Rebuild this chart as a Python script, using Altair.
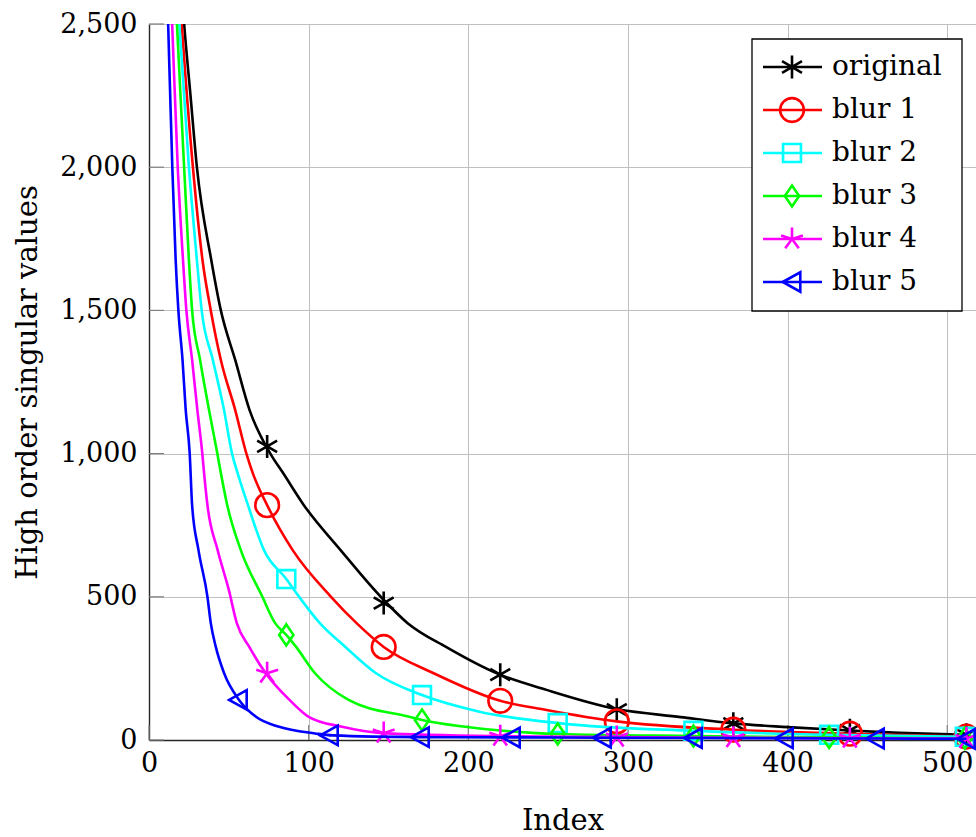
import altair as alt
import pandas as pd

# ---------------- data ----------------
NAMES = ["original", "blur 1", "blur 2", "blur 3", "blur 4", "blur 5"]
COLORS = ["#000000", "#ff0000", "#00ffff", "#00ff00", "#ff00ff", "#0000ff"]

ORIG_X = [15, 22, 26, 30, 39, 45, 54, 63, 76, 84, 97, 120, 146, 162, 186, 219, 249, 293, 333, 366, 400, 439, 470, 512]
ORIG_Y = [3100, 2500, 2250, 2000, 1676, 1500, 1327, 1152, 1000, 932, 820, 663, 495, 408, 325, 230, 175, 108, 80, 58, 45, 33, 25, 18]

BLUR1_X = [14, 20.5, 27.5, 33.5, 38.7, 45, 54, 61, 65, 74, 90, 114, 130, 147, 178, 220, 249, 293, 366, 437, 512]
BLUR1_Y = [3100, 2500, 2000, 1676, 1500, 1327, 1152, 1000, 932, 820, 663, 500, 408, 325, 234, 137, 105, 65, 36, 22, 12]

BLUR2_X = [13, 19, 25, 30, 33, 40, 47, 52, 55.5, 62, 72, 86, 94, 107, 123, 142, 171, 207, 258, 341, 426, 511]
BLUR2_Y = [3100, 2500, 2000, 1676, 1500, 1327, 1152, 1000, 932, 820, 663, 562, 500, 408, 325, 234, 157, 99, 58, 32, 18, 11]

BLUR3_X = [12, 17.5, 22, 25, 27, 32, 37.6, 42.8, 45, 49, 57.5, 71, 79, 86, 92, 104, 125, 163, 171, 198, 240, 256, 341, 426, 511]
BLUR3_Y = [3100, 2500, 2000, 1676, 1500, 1327, 1152, 1000, 932, 820, 663, 500, 408, 367, 326, 233, 140, 81, 70, 46, 25, 21, 14, 9, 6]

BLUR4_X = [10, 14.5, 18, 21.3, 23.4, 27, 30.3, 33.4, 34.5, 36.6, 43, 50, 55, 62.7, 73, 88, 100, 121, 146, 220, 293, 366, 439, 512]
BLUR4_Y = [3100, 2500, 2000, 1676, 1500, 1327, 1152, 1000, 932, 820, 663, 524, 408, 326, 234, 140, 81, 46, 24, 13, 10, 8, 6, 5]

BLUR5_X = [9, 12, 14.6, 16.7, 18.4, 21, 23, 25.5, 27, 31, 36.6, 38.7, 41.8, 47, 56.4, 67, 81.5, 104, 115, 170, 228, 285, 342, 400, 457, 512]
BLUR5_Y = [3100, 2500, 2000, 1676, 1500, 1327, 1152, 1000, 820, 663, 500, 408, 326, 234, 140, 81, 46, 23, 16, 10, 9, 8, 7, 6, 5, 4]

# marker positions (every n-th sample, as in the reference)
ORIG_MX = [74, 147, 220, 293, 366, 439, 512]
ORIG_MY = [1025, 478, 228, 106, 57, 34, 18]
BLUR1_MX = [74, 147, 220, 293, 366, 439, 512]
BLUR1_MY = [820, 325, 137, 65, 36, 22, 12]
BLUR2_MX = [86, 171, 256, 341, 426, 511]
BLUR2_MY = [562, 157, 59, 32, 18, 11]
BLUR3_MX = [86, 171, 256, 341, 426, 511]
BLUR3_MY = [367, 70, 21, 14, 9, 6]
BLUR4_MX = [74, 147, 220, 293, 366, 439, 512]
BLUR4_MY = [233, 24, 13, 10, 8, 6, 5]
BLUR5_MX = [56, 113, 170, 227, 284, 341, 398, 455, 512]
BLUR5_MY = [140, 16, 10, 9, 8, 7, 6, 5, 4]

XTICKS = [0, 100, 200, 300, 400, 500]
YTICKS = [0, 500, 1000, 1500, 2000, 2500]

# ---------------- styling ----------------
ASTERISK = "M0,-1L0,1M-0.866,-0.5L0.866,0.5M-0.866,0.5L0.866,-0.5"
STAR5 = "M0,0L0,-1M0,0L0.951,-0.309M0,0L0.588,0.809M0,0L-0.588,0.809M0,0L-0.951,-0.309"
DIAMOND = "M0,-1L0.68,0L0,1L-0.68,0Z"
TRILEFT = "M-0.95,0L0.85,-1L0.85,1Z"
SHAPES = [ASTERISK, "circle", "square", DIAMOND, STAR5, TRILEFT]
SIZES = [530, 560, 320, 440, 530, 380]

FONT = "DejaVu Serif"
W, H = 827, 716
LW = 2.6

line_data = [(ORIG_X, ORIG_Y), (BLUR1_X, BLUR1_Y), (BLUR2_X, BLUR2_Y),
             (BLUR3_X, BLUR3_Y), (BLUR4_X, BLUR4_Y), (BLUR5_X, BLUR5_Y)]
mark_data = [(ORIG_MX, ORIG_MY), (BLUR1_MX, BLUR1_MY), (BLUR2_MX, BLUR2_MY),
             (BLUR3_MX, BLUR3_MY), (BLUR4_MX, BLUR4_MY), (BLUR5_MX, BLUR5_MY)]

xscale = alt.Scale(domain=[0, 518], nice=False, zero=False)
yscale = alt.Scale(domain=[0, 2500], nice=False)
cscale = alt.Scale(domain=NAMES, range=COLORS)
sscale = alt.Scale(domain=NAMES, range=SHAPES)
zscale = alt.Scale(type="ordinal", domain=NAMES, range=SIZES)

x_axis = alt.Axis(values=XTICKS, title="Index", labelPadding=10, labelFlush=False,
                  titleY=89, titleBaseline="alphabetic")
y_axis = alt.Axis(values=YTICKS, format=",d", title="High order singular values",
                  labelPadding=12, labelFlush=False, titleX=-113, titleY=358, titleAngle=270,
                  titleAlign="center", titleBaseline="alphabetic")

X = lambda: alt.X("idx:Q", scale=xscale, axis=x_axis)
Y = lambda: alt.Y("value:Q", scale=yscale, axis=y_axis)
C = lambda: alt.Color("series:N", scale=cscale, legend=None)

# inward tick marks
ytick = alt.Chart(pd.DataFrame({"value": YTICKS})).mark_rule(
    color="#808080", strokeWidth=1.2).encode(
    y=Y(), x=alt.value(0), x2=alt.value(15))
xtick = alt.Chart(pd.DataFrame({"idx": XTICKS})).mark_rule(
    color="#808080", strokeWidth=1.2).encode(
    x=X(), y=alt.value(H), y2=alt.value(H - 15))

data_layers = [ytick, xtick]
for name, size, (lx, ly), (mx, my) in zip(NAMES, SIZES, line_data, mark_data):
    ldf = pd.DataFrame({"series": name, "idx": lx, "value": ly})
    mdf = pd.DataFrame({"series": name, "idx": mx, "value": my})
    line = alt.Chart(ldf).mark_line(strokeWidth=LW, interpolate="monotone", clip=True).encode(
        x=X(), y=Y(), color=C())
    pts = alt.Chart(mdf).mark_point(filled=False, strokeWidth=LW, opacity=1, size=size).encode(
        x=X(), y=Y(), color=C(),
        shape=alt.Shape("series:N", scale=sscale, legend=None))
    data_layers += [line, pts]

plot = alt.layer(*data_layers)

# ---------------- legend box ----------------
leg_df = pd.DataFrame({"series": NAMES})
LY = alt.Y("series:N", scale=alt.Scale(type="point", domain=NAMES, range=[43, 258], padding=0),
           axis=None)
box = alt.Chart(pd.DataFrame({"k": [0]})).mark_rect(
    fill="white", stroke="black", strokeWidth=1.3).encode(
    x=alt.value(603), x2=alt.value(813), y=alt.value(15), y2=alt.value(287))
leg_rule = alt.Chart(leg_df).mark_rule(strokeWidth=LW).encode(
    x=alt.value(614), x2=alt.value(673), y=LY, color=C())
leg_pts = alt.Chart(leg_df).mark_point(filled=False, strokeWidth=LW, opacity=1).encode(
    x=alt.value(643), y=LY, color=C(),
    shape=alt.Shape("series:N", scale=sscale, legend=None),
    size=alt.Size("series:N", scale=zscale, legend=None))
leg_txt = alt.Chart(leg_df).mark_text(
    align="left", baseline="middle", font=FONT, fontSize=28, color="black").encode(
    x=alt.value(683), y=LY, text="series:N")
legend = alt.layer(box, leg_rule, leg_pts, leg_txt)

chart = alt.layer(plot, legend).resolve_scale(y="independent").properties(
    width=W, height=H,
    padding={"left": 149, "top": 24, "right": 0, "bottom": 97},
    autosize=alt.AutoSizeParams(type="none"),
    background="white",
).configure_view(stroke=None).configure_axis(
    labelFont=FONT, titleFont=FONT, labelFontSize=27, titleFontSize=29,
    labelColor="black", titleColor="black", titleFontWeight="normal",
    grid=True, gridColor="#c0c0c0", gridWidth=1,
    domainColor="#262626", domainWidth=1.4, ticks=False, tickSize=0,
)

chart.save("out.html", embed_options={"renderer": "svg", "actions": False})
